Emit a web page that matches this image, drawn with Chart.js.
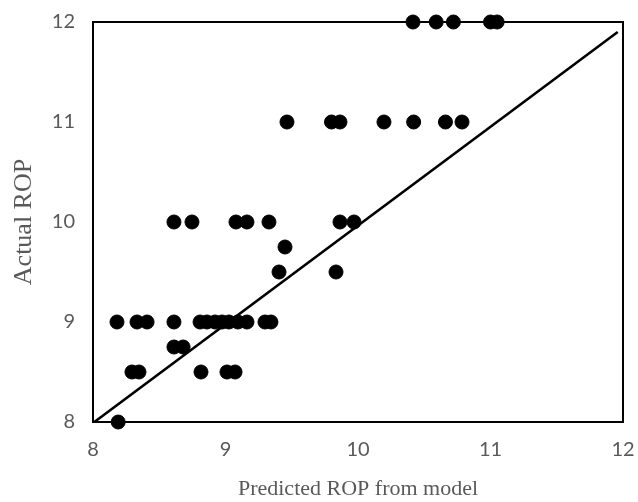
<!DOCTYPE html>
<html>
<head>
<meta charset="utf-8">
<script src="https://cdn.jsdelivr.net/npm/chart.js@4.4.1/dist/chart.umd.min.js"></script>
<style>
  html, body { margin: 0; padding: 0; background: #ffffff; }
  #wrap { width: 638px; height: 502px; }
</style>
</head>
<body>
<div id="wrap"><canvas id="c" width="638" height="502"></canvas></div>
<script>
// Predicted vs. actual rate of penetration (ROP)
const predictedROP = [
  10.415, 10.59, 10.72, 11.00, 11.05,
  9.464, 9.80, 9.864, 10.196, 10.42, 10.66, 10.785,
  8.611, 8.747, 9.079, 9.162, 9.328, 9.864, 9.97,
  9.449,
  9.404, 9.834,
  8.181, 8.332, 8.408, 8.611, 8.808, 8.86, 8.921, 8.974, 9.026, 9.094, 9.162, 9.298, 9.343,
  8.611, 8.68,
  8.294, 8.347, 8.815, 9.011, 9.072,
  8.19
];
const actualROP = [
  12, 12, 12, 12, 12,
  11, 11, 11, 11, 11, 11, 11,
  10, 10, 10, 10, 10, 10, 10,
  9.75,
  9.5, 9.5,
  9, 9, 9, 9, 9, 9, 9, 9, 9, 9, 9, 9, 9,
  8.75, 8.75,
  8.5, 8.5, 8.5, 8.5, 8.5,
  8
];
// Fitted line end points
const fitX = [8.01, 11.96];
const fitY = [8.0, 11.9];

const xTicks = [8, 9, 10, 11, 12];
const yTicks = [8, 9, 10, 11, 12];

const points = predictedROP.map((x, i) => ({ x: x, y: actualROP[i] }));
const fitLine = fitX.map((x, i) => ({ x: x, y: fitY[i] }));

const frame = {
  id: 'frame',
  beforeDatasetsDraw(chart) {
    const a = chart.chartArea, ctx = chart.ctx;
    ctx.save();
    ctx.strokeStyle = '#000000';
    ctx.lineWidth = 2;
    ctx.strokeRect(a.left, a.top, a.right - a.left, a.bottom - a.top);
    ctx.restore();
  }
};

const tickFont = { family: 'Lato, "Open Sans", sans-serif', size: 20 };
const serif = '"Liberation Serif", "Times New Roman", serif';

new Chart(document.getElementById('c'), {
  type: 'scatter',
  data: {
    datasets: [
      {
        label: 'Actual ROP',
        data: points,
        backgroundColor: '#000000',
        borderColor: '#000000',
        pointRadius: 7,
        pointHoverRadius: 7,
        clip: false,
        order: 2
      },
      {
        type: 'line',
        label: 'Fit',
        data: fitLine,
        borderColor: '#000000',
        borderWidth: 2.6,
        pointRadius: 0,
        fill: false,
        order: 1
      }
    ]
  },
  options: {
    responsive: false,
    animation: false,
    devicePixelRatio: 1,
    layout: { padding: { top: 22, right: 15, left: 0, bottom: 0 } },
    plugins: { legend: { display: false }, tooltip: { enabled: false } },
    scales: {
      x: {
        type: 'linear',
        min: 8, max: 12,
        afterBuildTicks(scale) { scale.ticks = xTicks.map(v => ({ value: v })); },
        afterFit(scale) { scale.height = 80; scale.paddingLeft = 0; scale.paddingRight = 0; },
        grid: { display: false, drawTicks: false },
        border: { display: true, color: '#595959', width: 1 },
        ticks: { color: '#595959', font: tickFont, padding: 16, maxRotation: 0 },
        title: { display: true, text: 'Predicted ROP from model', color: '#595959', font: { family: serif, size: 22 }, padding: { top: 0, bottom: 0 } }
      },
      y: {
        type: 'linear',
        min: 8, max: 12,
        afterBuildTicks(scale) { scale.ticks = yTicks.map(v => ({ value: v })); },
        afterFit(scale) { scale.width = 93; scale.paddingTop = 0; scale.paddingBottom = 0; },
        grid: { display: false, drawTicks: false },
        border: { display: true, color: '#595959', width: 1 },
        ticks: { color: '#595959', font: tickFont, padding: 18 },
        title: { display: true, text: 'Actual ROP', color: '#595959', font: { family: serif, size: 26 }, padding: { top: 9, bottom: 0 } }
      }
    }
  },
  plugins: [frame]
});
</script>
</body>
</html>
